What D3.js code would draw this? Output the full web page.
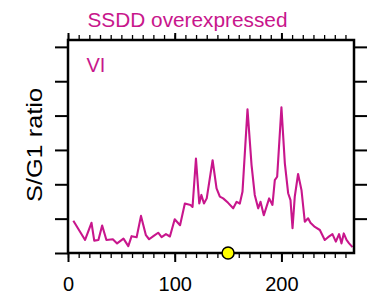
<!DOCTYPE html>
<html>
<head>
<meta charset="utf-8">
<script src="https://cdn.jsdelivr.net/npm/d3@7"></script>
<style>
  body { margin: 0; background: #fff; }
  svg { font-family: "Liberation Sans", Arial, sans-serif; }
</style>
</head>
<body>
<div id="chart"></div>
<script>
const width = 370;
const height = 300;
const margin = { top: 40, right: 16, bottom: 47, left: 68 };

const title = "SSDD overexpressed";
const panelLabel = "VI";
const yLabel = "S/G1 ratio";
const lineColor = "#c8168c";

// position along x (0-268) and S/G1 ratio (arbitrary tick units)
const positions = [5, 16, 22, 24.6, 28.5, 32, 36, 42, 46, 52, 56.5, 59.6, 64.3, 68.4, 73, 76, 80, 84.5, 87.7, 91.8, 95.5, 100, 105, 109.5, 114.8, 116.7, 119.9, 123, 125, 127.4, 130, 135.5, 139.2, 142.3, 145.4, 150, 154.8, 158, 161, 163.5, 168.2, 172, 175, 178.2, 180.4, 183.5, 188.5, 191.6, 193.8, 196, 200, 203.2, 206.3, 208.5, 210.4, 212.5, 215.6, 218.8, 221.9, 225, 227.2, 231.3, 236, 240.6, 243.7, 247.8, 251, 254, 256.3, 258.4, 261, 263.4, 266.6];
const ratios = [0.94, 0.38, 0.88, 0.36, 0.38, 0.8, 0.38, 0.4, 0.28, 0.42, 0.2, 0.49, 0.46, 1.08, 0.52, 0.4, 0.49, 0.59, 0.46, 0.55, 0.48, 0.98, 0.81, 1.44, 1.4, 1.34, 2.75, 1.44, 1.69, 1.44, 1.59, 2.7, 1.88, 1.64, 1.59, 1.46, 1.3, 1.49, 1.44, 1.78, 4.18, 2.56, 1.69, 1.3, 1.49, 1.1, 1.59, 1.4, 2.12, 2.22, 4.24, 2.61, 1.74, 1.54, 0.72, 1.64, 2.3, 1.83, 0.91, 1.01, 0.88, 0.76, 0.67, 0.38, 0.46, 0.55, 0.33, 0.55, 0.28, 0.57, 0.38, 0.28, 0.17];

const xTicks = [0, 100, 200];
const yTicks = [0, 1, 2, 3, 4, 5, 6];
const markerX = 150;

const data = positions.map((p, i) => ({ x: p, y: ratios[i] }));

const svg = d3.select("#chart").append("svg").attr("width", width).attr("height", height);

const x = d3.scaleLinear().domain([0, 268]).range([margin.left, width - margin.right]);
const y = d3.scaleLinear().domain([0, 6.2]).range([height - margin.bottom, margin.top]);

const x0 = x.range()[0], x1 = x.range()[1];
const y0 = y.range()[0], y1 = y.range()[1];

// curve
svg.append("path")
  .datum(data)
  .attr("fill", "none")
  .attr("stroke", lineColor)
  .attr("stroke-width", 2.1)
  .attr("stroke-linejoin", "round")
  .attr("d", d3.line().x(d => x(d.x)).y(d => y(d.y)));

const minor = d3.range(0, 269, 10);

// bottom axis
svg.append("g").attr("transform", `translate(0,${y0})`)
  .call(d3.axisBottom(x).tickValues(minor).tickSize(5).tickFormat(""))
  .call(g => g.select(".domain").remove())
  .call(g => g.selectAll(".tick line").attr("stroke-width", 1.3));
svg.append("g").attr("transform", `translate(0,${y0})`)
  .call(d3.axisBottom(x).tickValues(xTicks).tickSize(9).tickPadding(15))
  .call(g => g.select(".domain").remove())
  .call(g => g.selectAll(".tick line").attr("stroke-width", 2))
  .call(g => g.selectAll("text").attr("font-size", 20).attr("fill", "#000"));

// top axis
svg.append("g").attr("transform", `translate(0,${y1})`)
  .call(d3.axisTop(x).tickValues(minor).tickSize(5).tickFormat(""))
  .call(g => g.select(".domain").remove())
  .call(g => g.selectAll(".tick line").attr("stroke-width", 1.3));
svg.append("g").attr("transform", `translate(0,${y1})`)
  .call(d3.axisTop(x).tickValues(xTicks).tickSize(7).tickFormat(""))
  .call(g => g.select(".domain").remove())
  .call(g => g.selectAll(".tick line").attr("stroke-width", 2));

// left and right axes
svg.append("g").attr("transform", `translate(${x0},0)`)
  .call(d3.axisLeft(y).tickValues(yTicks).tickSize(13).tickFormat(""))
  .call(g => g.select(".domain").remove())
  .call(g => g.selectAll(".tick line").attr("stroke-width", 2));
svg.append("g").attr("transform", `translate(${x1},0)`)
  .call(d3.axisRight(y).tickValues(yTicks.slice(1)).tickSize(13).tickFormat(""))
  .call(g => g.select(".domain").remove())
  .call(g => g.selectAll(".tick line").attr("stroke-width", 2));

// frame
svg.append("rect")
  .attr("x", x0).attr("y", y1)
  .attr("width", x1 - x0).attr("height", y0 - y1)
  .attr("fill", "none").attr("stroke", "#000").attr("stroke-width", 2.5);

// marker
svg.append("circle")
  .attr("cx", x(markerX)).attr("cy", y0).attr("r", 6)
  .attr("fill", "#ffff00").attr("stroke", "#000").attr("stroke-width", 1.5);

// texts
svg.append("text")
  .attr("x", 187.5).attr("y", 27)
  .attr("text-anchor", "middle")
  .attr("font-size", 19.5)
  .attr("textLength", 200)
  .attr("lengthAdjust", "spacingAndGlyphs")
  .attr("fill", lineColor)
  .text(title);

svg.append("text")
  .attr("x", 86.5).attr("y", 72)
  .attr("font-size", 20)
  .attr("fill", lineColor)
  .text(panelLabel);

svg.append("text")
  .attr("transform", `translate(42,145) rotate(-90)`)
  .attr("text-anchor", "middle")
  .attr("font-size", 22)
  .attr("textLength", 114)
  .attr("lengthAdjust", "spacingAndGlyphs")
  .attr("fill", "#000")
  .text(yLabel);
</script>
</body>
</html>
